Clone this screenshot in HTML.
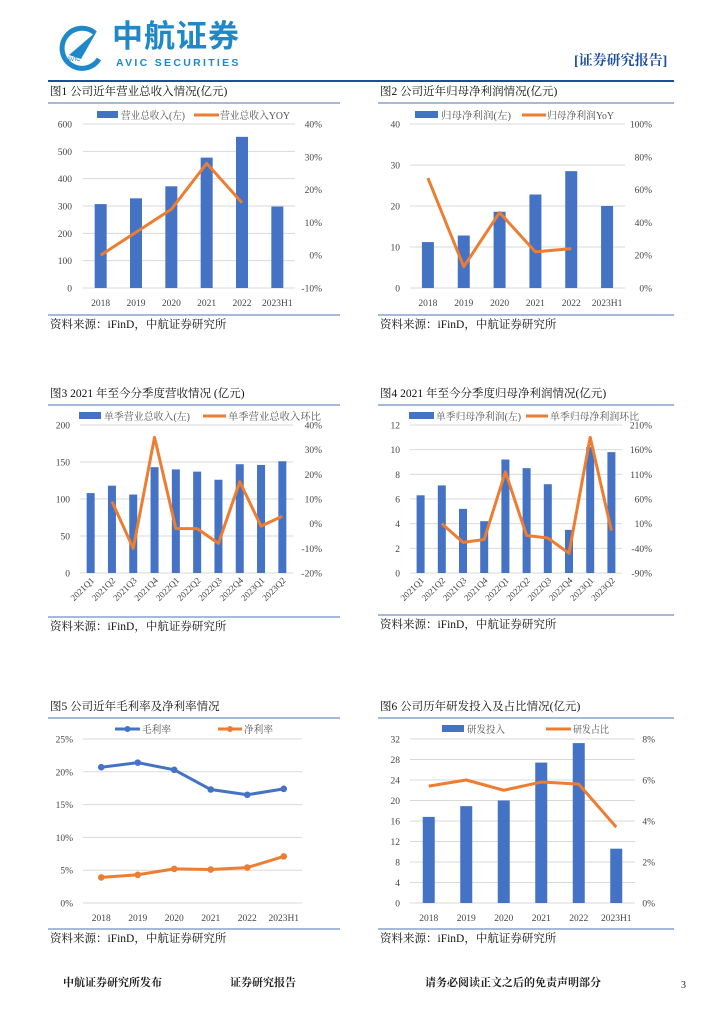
<!DOCTYPE html>
<html><head><meta charset="utf-8">
<style>
body{margin:0;background:#fff;font-family:"Liberation Serif","Noto Serif CJK SC",serif;}
#page{position:relative;width:724px;height:1024px;overflow:hidden;background:#fff;}
.t{position:absolute;white-space:nowrap;color:#222;}
</style></head>
<body>
<div id="page">
<svg id="logo" style="position:absolute;left:55px;top:25px" width="50" height="50" viewBox="0 0 50 50">
<path d="M40 8 A20 20 0 1 0 44 34" fill="none" stroke="#1e88c8" stroke-width="5"/>
<path d="M14 30 L42 6 L26 34 Z" fill="#1e88c8"/>
<text x="12" y="36" font-size="6" fill="#1e88c8" font-family="Liberation Sans">AVIC</text>
</svg>
<div class="t" style="left:112px;top:18px;font:bold 31px/38px 'Liberation Sans','Noto Sans CJK SC',sans-serif;color:#1e88c8;letter-spacing:1px">中航证券</div>
<div class="t" style="left:116px;top:57px;font:bold 10.5px/12px 'Liberation Sans',sans-serif;color:#1e88c8;letter-spacing:2.3px">AVIC  SECURITIES</div>
<div class="t" style="left:574px;top:50px;font-size:14px;font-weight:bold;color:#1a4f9c">[证券研究报告]</div>
<div style="position:absolute;left:48px;top:80px;width:626px;height:2px;background:#1a4f9c"></div>

<svg id="charts" width="724" height="1024" style="position:absolute;left:0;top:0"></svg>

<div class="t" style="left:63px;top:974px;font-size:11px;font-weight:bold">中航证券研究所发布</div>
<div class="t" style="left:230px;top:974px;font-size:11px;font-weight:bold">证券研究报告</div>
<div class="t" style="left:425px;top:974px;font-size:11px;font-weight:bold">请务必阅读正文之后的免责声明部分</div>
<div class="t" style="left:681px;top:980px;font-size:10px">3</div>
</div>
<script>
// Chart 1
const c1Cats=["2018","2019","2020","2021","2022","2023H1"];
const c1Rev=[307,328,372,477,553,298];
const c1Yoy=[0,7,14,28,16,null];
const c1Left=["0","100","200","300","400","500","600"];
const c1Right=["-10%","0%","10%","20%","30%","40%"];
// Chart 2
const c2Cats=["2018","2019","2020","2021","2022","2023H1"];
const c2Profit=[11.2,12.8,18.6,22.8,28.5,20.0];
const c2Yoy=[67,13,46,22,24,null];
const c2Left=["0","10","20","30","40"];
const c2Right=["0%","20%","40%","60%","80%","100%"];
// Chart 3
const c3Cats=["2021Q1","2021Q2","2021Q3","2021Q4","2022Q1","2022Q2","2022Q3","2022Q4","2023Q1","2023Q2"];
const c3Rev=[108,118,106,143,140,137,126,147,146,151];
const c3Qoq=[null,9,-10,35,-2,-2,-8,17,-1,3];
const c3Left=["0","50","100","150","200"];
const c3Right=["-20%","-10%","0%","10%","20%","30%","40%"];
// Chart 4
const c4Cats=["2021Q1","2021Q2","2021Q3","2021Q4","2022Q1","2022Q2","2022Q3","2022Q4","2023Q1","2023Q2"];
const c4Profit=[6.3,7.1,5.2,4.2,9.2,8.5,7.2,3.5,10.2,9.8];
const c4Qoq=[null,10,-28,-22,115,-14,-19,-50,185,-4];
const c4Left=["0","2","4","6","8","10","12"];
const c4Right=["-90%","-40%","10%","60%","110%","160%","210%"];
// Chart 5
const c5Cats=["2018","2019","2020","2021","2022","2023H1"];
const c5Gross=[20.7,21.4,20.3,17.3,16.5,17.4];
const c5Net=[3.9,4.3,5.2,5.1,5.4,7.1];
const c5Left=["0%","5%","10%","15%","20%","25%"];
// Chart 6
const c6Cats=["2018","2019","2020","2021","2022","2023H1"];
const c6Rd=[16.8,18.9,20.0,27.4,31.2,10.6];
const c6Share=[5.7,6.0,5.5,5.9,5.8,3.7];
const c6Left=["0","4","8","12","16","20","24","28","32"];
const c6Right=["0%","2%","4%","6%","8%"];

const svg=document.getElementById('charts');
const NS="http://www.w3.org/2000/svg";
const BLUE="#4472c4",ORANGE="#ed7d31";
function mk(tag,attrs,txt){const e=document.createElementNS(NS,tag);for(const k in attrs)e.setAttribute(k,attrs[k]);if(txt!=null)e.textContent=txt;svg.appendChild(e);return e;}
function txt(x,y,s,size,anchor,extra){const e=mk('text',Object.assign({x:x,y:y,'font-size':size,'text-anchor':anchor||'start',fill:'#444','font-family':'Liberation Serif, Noto Serif CJK SC, serif'},extra||{}),s);return e;}

function chart(o){
  let e=txt(o.fx+2,o.ty,o.title,11.5,'start',{fill:'#111'});
  
  e=mk('line',{x1:o.fx,x2:o.fx+o.fw,y1:o.ty+8,y2:o.ty+8,stroke:'#6f8fc0','stroke-width':1.2});
  
  e=mk('line',{x1:o.fx,x2:o.fx+o.fw,y1:o.srcY-13,y2:o.srcY-13,stroke:'#6f8fc0','stroke-width':1.2});
  
  e=txt(o.fx+2,o.srcY,"资料来源：iFinD，中航证券研究所",11.5,'start',{fill:'#111'});
  
  const n=o.cats.length;
  const yL=v=>o.y1-(v-o.lMin)/(o.lMax-o.lMin)*(o.y1-o.y0);
  const yR=v=>o.y1-(v-o.rMin)/(o.rMax-o.rMin)*(o.y1-o.y0);
  const xC=i=>o.x0+(i+0.5)*(o.x1-o.x0)/n;
  o.leftTicks.forEach((t,i)=>{
    const y=o.y1-i*(o.y1-o.y0)/(o.leftTicks.length-1);
    const g=mk('line',{x1:o.x0,x2:o.x1,y1:y,y2:y,stroke:'#d9d9d9','stroke-width':1});
    
    const l=txt(o.lx,y+3.5,t,9.5,'end');
    
  });
  if(o.rightTicks)o.rightTicks.forEach((t,i)=>{
    const y=o.y1-i*(o.y1-o.y0)/(o.rightTicks.length-1);
    const l=txt(o.rx,y+3.5,t,9.5,'end');
    
  });
  o.cats.forEach((c,i)=>{
    let l;
    if(o.rot){l=txt(xC(i)+4,o.y1+8,c,9,'end',{transform:`rotate(-45 ${xC(i)+4} ${o.y1+8})`});}
    else l=txt(xC(i),o.y1+18,c,9.5,'middle');
    
  });
  if(o.bars)o.bars.forEach((v,i)=>{
    const b=mk('rect',{x:xC(i)-o.bw/2,y:yL(v),width:o.bw,height:yL(o.lMin)-yL(v),fill:BLUE});
    
  });
  (o.lines||[]).forEach(L=>{
    const f=L.axis==='r'?yR:yL;let pts=[];
    L.data.forEach((v,i)=>{if(v!=null)pts.push([xC(i),f(v)]);});
    const p=mk('polyline',{points:pts.map(p=>p.join(',')).join(' '),fill:'none',stroke:L.color,'stroke-width':3,'stroke-linejoin':'round'});
    
    if(L.markers)pts.forEach(q=>{const c=mk('circle',{cx:q[0],cy:q[1],r:3.3,fill:L.color});
      });
  });
  o.legend.forEach(lg=>{
    let s;
    if(lg.type==='bar')s=mk('rect',{x:lg.x,y:o.ly-4,width:lg.w,height:7,fill:BLUE});
    else s=mk('line',{x1:lg.x,x2:lg.x+lg.w,y1:o.ly,y2:o.ly,stroke:lg.color,'stroke-width':3});
    
    if(lg.dot){const c=mk('circle',{cx:lg.x+lg.w/2,cy:o.ly,r:3,fill:lg.color});}
    const l=txt(lg.tx,o.ly+4,lg.label,10,'start',{fill:'#555',textLength:lg.tw,lengthAdjust:'spacingAndGlyphs'});
    
  });
}

chart({title:"图1 公司近年营业总收入情况(亿元)",fx:48,fw:292,ty:95,srcY:328,
 x0:83,x1:295,y0:124,y1:288,lx:72,rx:322,cats:c1Cats,bars:c1Rev,bw:12,lMin:0,lMax:600,rMin:-10,rMax:40,
 leftTicks:c1Left,rightTicks:c1Right,lines:[{data:c1Yoy,axis:'r',color:ORANGE,name:'line-revenue-yoy'}],
 ly:115,legend:[{type:'bar',x:97,w:21,tx:121,tw:64,label:'营业总收入(左)'},{type:'line',x:194,w:25,tx:220,tw:70,color:ORANGE,label:'营业总收入YOY'}]});
chart({title:"图2 公司近年归母净利润情况(亿元)",fx:378,fw:296,ty:95,srcY:328,
 x0:410,x1:625,y0:124,y1:288,lx:400,rx:652,cats:c2Cats,bars:c2Profit,bw:12,lMin:0,lMax:40,rMin:0,rMax:100,
 leftTicks:c2Left,rightTicks:c2Right,lines:[{data:c2Yoy,axis:'r',color:ORANGE,name:'line-profit-yoy'}],
 ly:115,legend:[{type:'bar',x:415,w:23,tx:441,tw:70,label:'归母净利润(左)'},{type:'line',x:522,w:24,tx:547,tw:67,color:ORANGE,label:'归母净利润YoY'}]});
chart({title:"图3 2021 年至今分季度营收情况 (亿元)",fx:48,fw:292,ty:397,srcY:630,
 x0:80,x1:293,y0:425,y1:573,lx:70,rx:322,cats:c3Cats,bars:c3Rev,bw:8,lMin:0,lMax:200,rMin:-20,rMax:40,rot:true,
 leftTicks:c3Left,rightTicks:c3Right,lines:[{data:c3Qoq,axis:'r',color:ORANGE,name:'line-revenue-qoq'}],
 ly:416,legend:[{type:'bar',x:79,w:22,tx:104,tw:86,label:'单季营业总收入(左)'},{type:'line',x:203,w:23,tx:228,tw:93,color:ORANGE,label:'单季营业总收入环比'}]});
chart({title:"图4 2021 年至今分季度归母净利润情况(亿元)",fx:378,fw:296,ty:397,srcY:628,
 x0:410,x1:622,y0:425,y1:573,lx:400,rx:652,cats:c4Cats,bars:c4Profit,bw:8,lMin:0,lMax:12,rMin:-90,rMax:210,rot:true,
 leftTicks:c4Left,rightTicks:c4Right,lines:[{data:c4Qoq,axis:'r',color:ORANGE,name:'line-profit-qoq'}],
 ly:416,legend:[{type:'bar',x:409,w:25,tx:436,tw:85,label:'单季归母净利润(左)'},{type:'line',x:526,w:22,tx:550,tw:89,color:ORANGE,label:'单季归母净利润环比'}]});
chart({title:"图5 公司近年毛利率及净利率情况",fx:48,fw:292,ty:710,srcY:942,
 x0:83,x1:302,y0:739,y1:903,lx:73,cats:c5Cats,lMin:0,lMax:25,
 leftTicks:c5Left,lines:[{data:c5Gross,color:BLUE,markers:true,name:'line-gross-margin'},{data:c5Net,color:ORANGE,markers:true,name:'line-net-margin'}],
 ly:729,legend:[{type:'line',x:115,w:25,tx:142,tw:29,color:BLUE,dot:true,label:'毛利率'},{type:'line',x:218,w:24,tx:244,tw:29,color:ORANGE,dot:true,label:'净利率'}]});
chart({title:"图6 公司历年研发投入及占比情况(亿元)",fx:378,fw:296,ty:710,srcY:942,
 x0:410,x1:635,y0:739,y1:903,lx:400,rx:655,cats:c6Cats,bars:c6Rd,bw:12,lMin:0,lMax:32,rMin:0,rMax:8,
 leftTicks:c6Left,rightTicks:c6Right,lines:[{data:c6Share,axis:'r',color:ORANGE,name:'line-rd-share'}],
 ly:729,legend:[{type:'bar',x:442,w:22,tx:467,tw:38,label:'研发投入'},{type:'line',x:546,w:25,tx:573,tw:36,color:ORANGE,label:'研发占比'}]});
</script>
</body></html>
